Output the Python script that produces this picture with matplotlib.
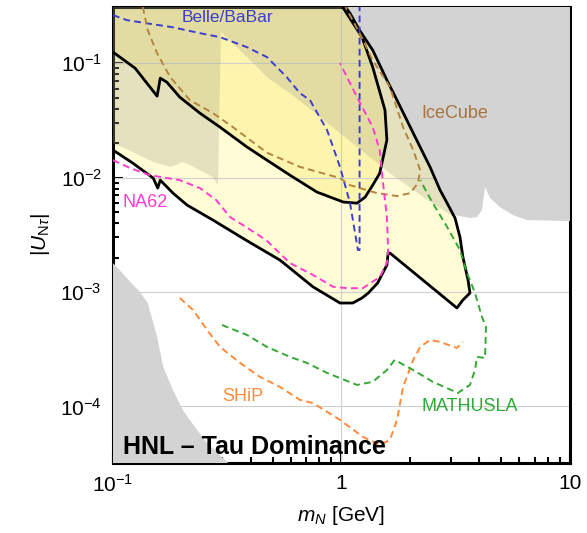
import numpy as np
import matplotlib
matplotlib.use("Agg")
import matplotlib.pyplot as plt
from matplotlib.ticker import LogLocator, NullFormatter

plt.rcParams["font.family"] = ["Liberation Sans", "DejaVu Sans"]
plt.rcParams["mathtext.fontset"] = "custom"
plt.rcParams["mathtext.rm"] = "Liberation Sans"
plt.rcParams["mathtext.it"] = "Liberation Sans:italic"
plt.rcParams["mathtext.bf"] = "Liberation Sans:bold"

# limites
m_min, m_max = 0.1, 10.0
u_min, u_max = 3.2e-5, 0.31

# region excluida externa (amarillo claro), contorno negro inferior/derecho
outer_m = [0.100, 0.122, 0.150, 0.157, 0.161, 0.183, 0.211, 0.274, 0.382, 0.538, 0.750,
           0.985, 1.12, 1.23, 1.31, 1.44, 1.58, 1.60, 1.63, 3.20, 3.40, 3.65, 3.58,
           3.40, 3.30, 3.14, 2.90, 2.70, 2.44, 2.06, 1.75, 1.58, 1.37, 1.20, 1.09, 1.04]
outer_u = [0.0174, 0.0134, 0.0099, 0.0081, 0.0095, 0.00732, 0.00575, 0.00425, 0.00284, 0.00190, 0.00111,
           0.000801, 0.000801, 0.000887, 0.00098, 0.00120, 0.00172, 0.00219, 0.00219, 0.000725, 0.000851, 0.00098, 0.00127,
           0.00202, 0.00302, 0.00443, 0.00598, 0.00778, 0.0124, 0.0245, 0.0475, 0.0711, 0.130, 0.194, 0.273, 0.31]

# region excluida interna (amarillo)
inner_m = [0.100, 0.125, 0.156, 0.161, 0.172, 0.196, 0.240, 0.294, 0.386, 0.472, 0.595, 0.781,
           1.02, 1.17, 1.27, 1.37, 1.47, 1.58, 1.55, 1.37, 1.23, 1.02, 1.02]
inner_u = [0.125, 0.0904, 0.0515, 0.0740, 0.0683, 0.0505, 0.0366, 0.0276, 0.0185, 0.0142, 0.0105, 0.00747,
           0.00611, 0.00598, 0.00676, 0.00859, 0.0109, 0.0213, 0.0389, 0.0923, 0.169, 0.302, 0.31]

# region gris translucida (borde izquierdo e inferior)
shade_m = [0.100, 0.100, 0.122, 0.150, 0.178, 0.189, 0.202, 0.217, 0.248, 0.274, 0.288,
           0.297, 0.386, 0.472, 0.595, 0.985, 1.63, 2.28, 3.14]
shade_u = [0.31, 0.0200, 0.0167, 0.0137, 0.0124, 0.0129, 0.0137, 0.0129, 0.0112, 0.0101, 0.00859,
           0.187, 0.113, 0.0755, 0.0547, 0.0245, 0.0109, 0.00676, 0.00443]

# region gris opaca (arriba a la derecha)
gray_m = [1.04, 1.09, 1.20, 1.37, 1.58, 1.75, 2.06, 2.44, 2.70, 2.90, 3.14, 3.65, 3.92,
          4.12, 4.25, 4.47, 4.94, 5.63, 6.49, 10.0, 10.0]
gray_u = [0.31, 0.273, 0.194, 0.130, 0.0711, 0.0475, 0.0245, 0.0124, 0.00778, 0.00598, 0.00470, 0.00443, 0.00452,
          0.00520, 0.00826, 0.00662, 0.00552, 0.00470, 0.00425, 0.00417, 0.31]

# region gris opaca (abajo a la izquierda)
low_m = [0.100, 0.131, 0.142, 0.156, 0.166, 0.183, 0.202, 0.233, 0.258, 0.330, 0.100]
low_u = [0.00179, 0.00100, 0.000801, 0.000405, 0.000221, 0.000139, 0.0000932, 0.0000624, 0.0000480, 0.00003, 0.00003]

# curvas de sensibilidad
belle_m = [0.100, 0.115, 0.141, 0.183, 0.240, 0.294, 0.386, 0.472, 0.576, 0.658, 0.728, 0.865,
           0.985, 1.09, 1.18, 1.20, 1.20]
belle_u = [0.263, 0.238, 0.223, 0.206, 0.183, 0.169, 0.138, 0.113, 0.0755, 0.0547, 0.0475, 0.0260,
           0.0124, 0.00598, 0.00233, 0.00233, 0.31]

icecube_m = [0.135, 0.142, 0.156, 0.178, 0.217, 0.274, 0.335, 0.472, 0.658, 0.985, 1.09, 1.43,
             1.75, 2.00, 2.16, 2.21, 2.06, 1.86, 1.63, 1.37, 1.20, 1.06, 1.04]
icecube_u = [0.31, 0.194, 0.122, 0.0755, 0.0475, 0.0366, 0.0276, 0.0165, 0.0124, 0.0099, 0.00859, 0.00732,
             0.00690, 0.00732, 0.00895, 0.0116, 0.0174, 0.0276, 0.0617, 0.106, 0.183, 0.290, 0.31]

na62_m = [0.100, 0.119, 0.145, 0.196, 0.240, 0.283, 0.325, 0.382, 0.468, 0.595, 0.750, 0.919,
          1.06, 1.24, 1.47, 1.58, 1.60, 1.58, 1.52, 1.47, 1.37, 1.17, 0.985]
na62_u = [0.0142, 0.0121, 0.0105, 0.0095, 0.0081, 0.00636, 0.00452, 0.00370, 0.00284, 0.00179, 0.00141, 0.00111,
          0.00108, 0.00108, 0.00135, 0.00179, 0.00233, 0.00452, 0.00895, 0.0174, 0.0276, 0.0505, 0.100]

ship_m = [0.196, 0.224, 0.258, 0.294, 0.360, 0.440, 0.538, 0.658, 0.750, 0.985, 1.24, 1.47,
          1.63, 1.75, 1.86, 2.06, 2.21, 2.44, 2.70, 3.20, 3.40]
ship_u = [0.000887, 0.000697, 0.000466, 0.000331, 0.000240, 0.000181, 0.000148, 0.000114, 0.000107,
          0.0000762, 0.0000542, 0.0000461, 0.0000510, 0.0000762, 0.000148, 0.000255, 0.000331,
          0.000381, 0.000366, 0.000324, 0.000366]

mathusla_m = [0.300, 0.386, 0.472, 0.595, 0.706, 0.865, 1.17, 1.37, 1.58, 1.71, 2.06, 2.51, 3.23,
              3.65, 3.84, 3.92, 4.25, 4.29, 4.12, 3.84, 3.65, 3.54, 3.30, 2.90, 2.51, 2.21]
mathusla_u = [0.000515, 0.000421, 0.000331, 0.000271, 0.000240, 0.000196, 0.000154, 0.000164, 0.000208,
              0.000255, 0.000208, 0.000164, 0.000131, 0.000154, 0.000208, 0.000271, 0.000265, 0.000494,
              0.000605, 0.00098, 0.00127, 0.00147, 0.00233, 0.00370, 0.00598, 0.0095]

x_ticks = [0.1, 1, 10]
x_labels = ["$10^{-1}$", "1", "10"]
y_ticks = [1e-4, 1e-3, 1e-2, 1e-1]
y_labels = ["$10^{-4}$", "$10^{-3}$", "$10^{-2}$", "$10^{-1}$"]


def main():
    fig = plt.figure(figsize=(5.87, 5.33), dpi=100)
    ax = fig.add_axes([0.1925, 0.1313, 0.7785, 0.8556])
    ax.set_xscale("log")
    ax.set_yscale("log")
    ax.set_xlim(m_min, m_max)
    ax.set_ylim(u_min, u_max)

    # rellenos
    ax.fill(outer_m + [0.1, 0.1], outer_u + [u_max, 0.0174], color="#fffcd6", lw=0, zorder=1)
    ax.fill(inner_m + [0.1], inner_u + [u_max], color="#fdf5ae", lw=0, zorder=2)
    ax.axvline(1.0, color="#cfcfcf", lw=0.8, zorder=2.5)
    for v in y_ticks:
        ax.axhline(v, color="#cfcfcf", lw=0.8, zorder=2.5)
    # la zona translucida sigue el borde gris por la derecha hasta arriba
    sm = shade_m + gray_m[10::-1]
    su = shade_u + gray_u[10::-1]
    ax.fill(sm, su, color="#acaa8c", alpha=0.32, lw=0, zorder=3)
    ax.fill(gray_m, gray_u, color="#d3d3d3", lw=0, zorder=4)
    ax.fill(low_m, low_u, color="#d3d3d3", lw=0, zorder=4)

    # contornos negros
    ax.plot(outer_m, outer_u, color="black", lw=2.0, zorder=5)
    ax.plot(inner_m[:-1], inner_u[:-1], color="black", lw=2.0, zorder=5)

    # curvas discontinuas
    estilo = dict(lw=1.4, dashes=(3.5, 2.2), zorder=6)
    ax.plot(belle_m, belle_u, color="#3d3dd0", **estilo)
    ax.plot(icecube_m, icecube_u, color="#b5843f", **estilo)
    ax.plot(na62_m, na62_u, color="#ff3ccf", **estilo)
    ax.plot(ship_m, ship_u, color="#ff8a3a", **estilo)
    ax.plot(mathusla_m, mathusla_u, color="#35a835", **estilo)

    # etiquetas
    ax.text(0.318, 0.252, "Belle/BaBar", color="#3d3dd0", fontsize=12.5, ha="center", va="center", zorder=7)
    ax.text(3.14, 0.0366, "IceCube", color="#a8743e", fontsize=13, ha="center", va="center", zorder=7)
    ax.text(0.138, 0.00611, "NA62", color="#ff3ccf", fontsize=13, ha="center", va="center", zorder=7)
    ax.text(0.371, 0.000121, "SHiP", color="#ff8a3a", fontsize=13, ha="center", va="center", zorder=7)
    ax.text(3.65, 0.000099, "MATHUSLA", color="#2ea836", fontsize=13, ha="center", va="center", zorder=7)
    ax.text(0.022, 0.035, "HNL \u2013 Tau Dominance", transform=ax.transAxes, fontsize=18,
            fontweight="bold", ha="left", va="center", zorder=7)

    # ejes
    ax.set_xticks(x_ticks)
    ax.set_xticklabels(x_labels)
    ax.set_yticks(y_ticks)
    ax.set_yticklabels(y_labels)
    ax.xaxis.set_minor_locator(LogLocator(base=10, subs=np.arange(2, 10)))
    ax.yaxis.set_minor_locator(LogLocator(base=10, subs=np.arange(2, 10)))
    ax.xaxis.set_minor_formatter(NullFormatter())
    ax.yaxis.set_minor_formatter(NullFormatter())
    ax.tick_params(which="both", direction="in", top=False, right=False, labelsize=15, width=1.5)
    ax.tick_params(which="major", length=7, pad=8)
    ax.tick_params(which="minor", length=4)
    for s in ax.spines.values():
        s.set_linewidth(2.2)
    ax.set_xlabel("$m_N$ [GeV]", fontsize=15, labelpad=6)
    ax.set_ylabel(r"$|U_{\mathrm{N}\tau}|$", fontsize=15, labelpad=6)

    fig.savefig("out.png", dpi=100)


if __name__ == "__main__":
    main()
